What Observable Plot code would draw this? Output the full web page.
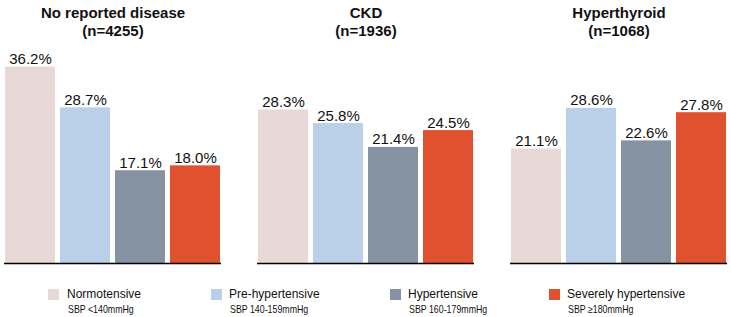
<!DOCTYPE html>
<html>
<head>
<meta charset="utf-8">
<script src="https://cdn.jsdelivr.net/npm/d3@7"></script>
<script src="https://cdn.jsdelivr.net/npm/@observablehq/plot@0.6"></script>
<style>
  html, body { margin: 0; padding: 0; background: #fff; }
  body { font-family: "Liberation Sans", Arial, Helvetica, sans-serif; }
  #wrap { position: relative; width: 731px; height: 317px; }
  #legend { position: absolute; left: 0; top: 0; width: 731px; height: 317px; pointer-events: none; }
  .sw { position: absolute; width: 11px; height: 11px; top: 289px; }
  .lab { position: absolute; top: 286px; font-size: 12px; color: #111; line-height: 16px; white-space: nowrap; }
  .sub { position: absolute; top: 303px; font-size: 10.5px; color: #111; line-height: 12px; white-space: nowrap; transform: scaleX(0.84); transform-origin: left center; }
</style>
</head>
<body>
<div id="wrap"><div id="chart"></div><div id="legend"></div></div>
<script>
const groups = ["No reported disease", "CKD", "Hyperthyroid"];
const groupN = ["4255", "1936", "1068"];
const categories = ["Normotensive", "Pre-hypertensive", "Hypertensive", "Severely hypertensive"];
const categorySub = ["SBP <140mmHg", "SBP 140-159mmHg", "SBP 160-179mmHg", "SBP \u2265180mmHg"];
const colors = ["#e8d9d8", "#bacfe8", "#8492a2", "#e05130"];
const valuesNoDisease = [36.2, 28.7, 17.1, 18.0];
const valuesCKD = [28.3, 25.8, 21.4, 24.5];
const valuesHyperthyroid = [21.1, 28.6, 22.6, 27.8];

const seriesValues = [valuesNoDisease, valuesCKD, valuesHyperthyroid];
const data = [];
groups.forEach((g, gi) => categories.forEach((c, ci) => data.push({group: g, category: c, value: seriesValues[gi][ci]})));
const titles = groups.map((g, i) => ({group: g, label: g + "\n(n=" + groupN[i] + ")"}));

const chart = Plot.plot({
  width: 731,
  height: 270,
  marginTop: 46,
  marginBottom: 7,
  marginLeft: 3,
  marginRight: 3,
  style: {fontFamily: '"Liberation Sans", Arial, Helvetica, sans-serif', background: "#fff"},
  fx: {domain: groups, paddingInner: 0.142, paddingOuter: 0, axis: null},
  x: {domain: categories, paddingInner: 0.096, paddingOuter: 0.005, axis: null},
  y: {domain: [0, 40], axis: null},
  color: {domain: categories, range: colors},
  marks: [
    Plot.barY(data, {fx: "group", x: "category", y: "value", fill: "category"}),
    Plot.ruleY([0], {stroke: "#000", strokeWidth: 1.3}),
    Plot.text(data, {fx: "group", x: "category", y: "value", text: d => d.value.toFixed(1) + "%", lineAnchor: "bottom", dy: -3, fontSize: 15, fill: "#111"}),
    Plot.text(titles, {fx: "group", text: "label", frameAnchor: "top", lineAnchor: "top", dy: -41, fontSize: 15, fontWeight: "bold", lineHeight: 1.2, fill: "#111"})
  ]
});
document.getElementById("chart").appendChild(chart);

const legend = document.getElementById("legend");
const swX = [48, 211, 390, 549];
const txX = [67, 229, 408, 567];
categories.forEach((c, i) => {
  const s = document.createElement("div"); s.className = "sw"; s.style.left = swX[i] + "px"; s.style.background = colors[i]; legend.appendChild(s);
  const l = document.createElement("div"); l.className = "lab"; l.style.left = txX[i] + "px"; l.textContent = c; legend.appendChild(l);
  const b = document.createElement("div"); b.className = "sub"; b.style.left = (txX[i] + 1) + "px"; b.textContent = categorySub[i]; legend.appendChild(b);
});
</script>
</body>
</html>
